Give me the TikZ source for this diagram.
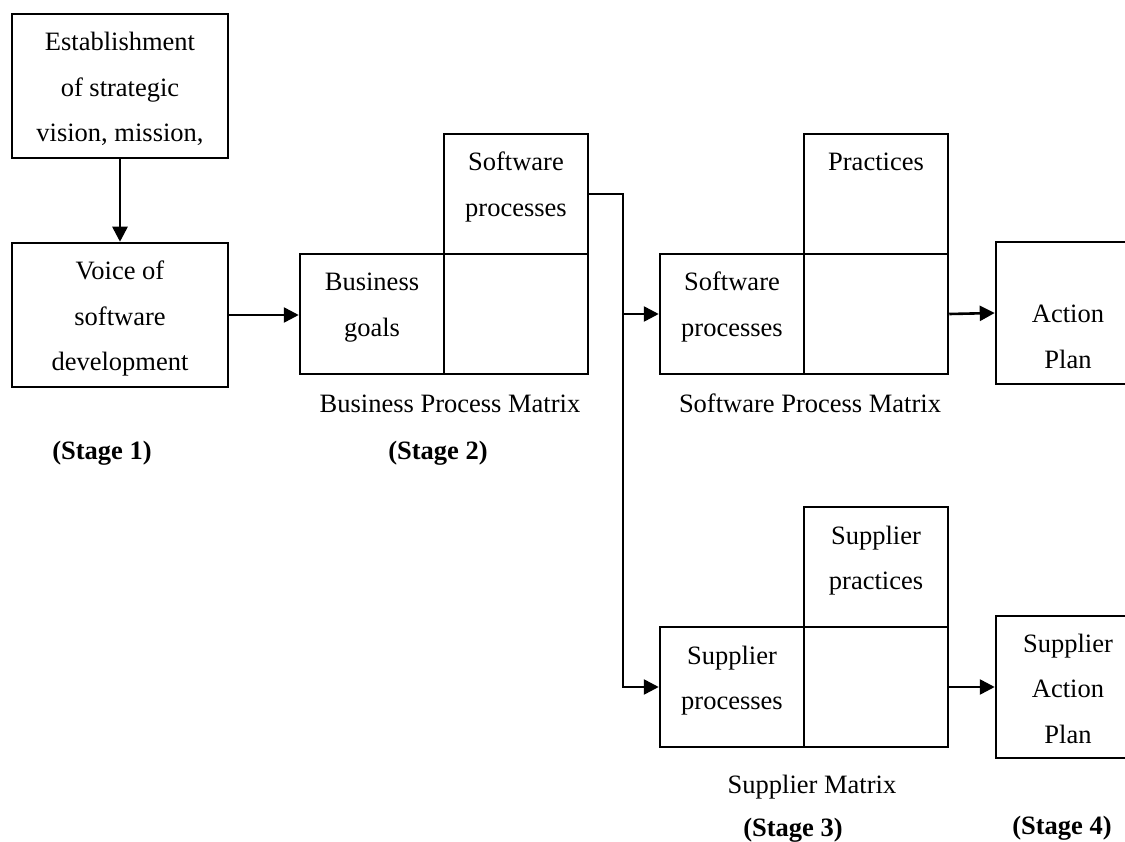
\documentclass[tikz,border=0pt]{standalone}
\usepackage{fontspec}
\setmainfont{Liberation Serif}
\usetikzlibrary{arrows.meta}
\newcommand{\ml}[1]{\begin{tabular}[t]{@{}c@{}}#1\end{tabular}}
\begin{document}
\begin{tikzpicture}[x=1pt,y=-1pt,
  boxstyle/.style={draw, line width=2.5pt, inner sep=0pt, minimum width=#1},
  boxstyle/.default=144pt,
  txt/.style={inner sep=0pt, anchor=base, font={\fontsize{26.5}{45.5}\selectfont}},
  stg/.style={inner sep=0pt, anchor=base, font={\fontsize{26.5}{45.5}\selectfont\bfseries}},
  arr/.style={line width=2.6pt, -{Triangle[length=15pt,width=15pt]}},
  conn/.style={line width=2.6pt}]
\fill[white] (0,0) rectangle (1125,842);
\useasboundingbox (0,0) rectangle (1125,842);

% Stage 1 boxes
\node[boxstyle=216pt, minimum height=144pt] (b1) at (120,86) {};
\node[boxstyle=216pt, minimum height=144pt] (b2) at (120,315) {};
\node[txt] (t1) at (120,51) {\ml{Establishment\\of strategic\\vision, mission,}};
\node[txt] (t2) at (120,280) {\ml{Voice of\\software\\development}};

% Business Process Matrix
\node[boxstyle, minimum height=120pt] (bl) at (372,314) {};
\node[boxstyle, minimum height=120pt] (br) at (516,314) {};
\node[boxstyle, minimum height=120pt] (bt) at (516,194) {};
\node[txt] (tbl) at (372,291) {\ml{Business\\goals}};
\node[txt] (tbt) at (516,171) {\ml{Software\\processes}};

% Software Process Matrix
\node[boxstyle, minimum height=120pt] (sl) at (732,314) {};
\node[boxstyle, minimum height=120pt] (sr) at (876,314) {};
\node[boxstyle, minimum height=120pt] (st) at (876,194) {};
\node[txt] (tsl) at (732,291) {\ml{Software\\processes}};
\node[txt] (tst) at (876,171) {\ml{Practices}};

% Supplier Matrix
\node[boxstyle, minimum height=120pt] (ml) at (732,687) {};
\node[boxstyle, minimum height=120pt] (mr) at (876,687) {};
\node[boxstyle, minimum height=120pt] (mt) at (876,567) {};
\node[txt] (tml) at (732,664) {\ml{Supplier\\processes}};
\node[txt] (tmt) at (876,544) {\ml{Supplier\\practices}};

% Action plans
\node[boxstyle, minimum height=142pt] (ap) at (1068,313) {};
\node[txt] (tap) at (1068,323) {\ml{Action\\Plan}};
\node[boxstyle, minimum height=142pt] (sap) at (1068,687) {};
\node[txt] (tsap) at (1068,652) {\ml{Supplier\\Action\\Plan}};

% Captions
\node[txt] (c1) at (450,412) {Business Process Matrix};
\node[txt] (c2) at (810,412) {Software Process Matrix};
\node[txt] (c3) at (812,793) {Supplier Matrix};
\node[stg] (s1) at (102,459) {(Stage 1)};
\node[stg] (s2) at (438,459) {(Stage 2)};
\node[stg] (s3) at (793,836) {(Stage 3)};
\node[stg] (s4) at (1062,834) {(Stage 4)};

% Connectors
\draw[arr] (b1.south) -- (b2.north);
\draw[arr] (b2.east) -- (b2.east -| bl.west);
\coordinate (jx) at (623,314);
\draw[conn] (bt.east) -| (jx);
\draw[arr] (jx) -- (sl.west);
\draw[arr] (jx) |- (ml.west);
\draw[arr] (sr.east) -- (ap.west);
\draw[arr] (mr.east) -- (sap.west);
\end{tikzpicture}
\end{document}
